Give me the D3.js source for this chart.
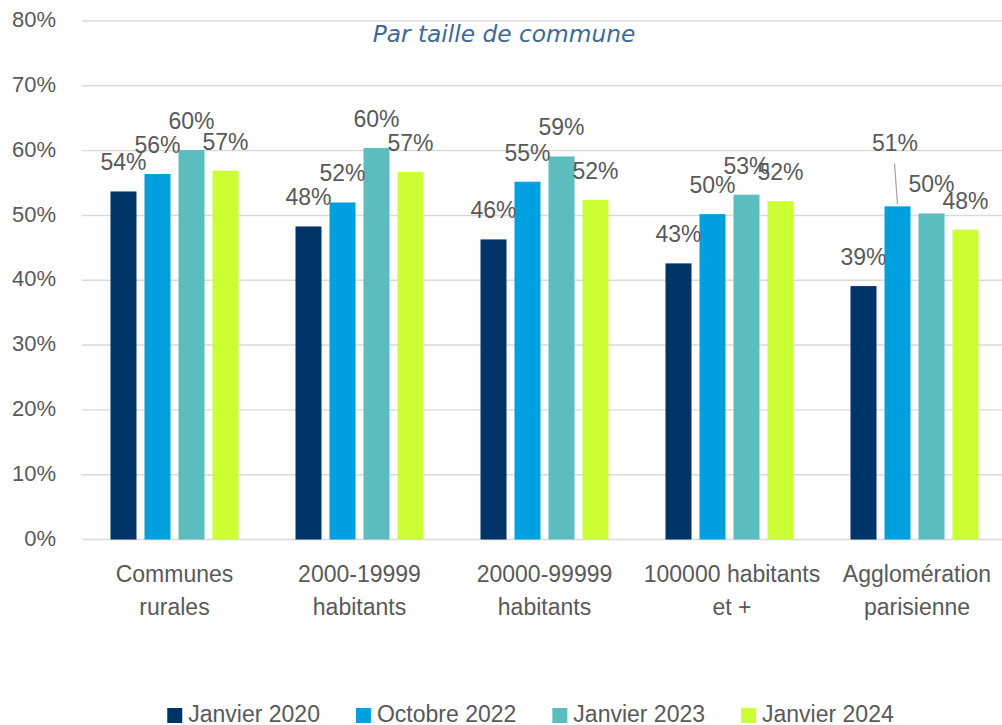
<!DOCTYPE html>
<html>
<head>
<meta charset="utf-8">
<script src="https://cdn.jsdelivr.net/npm/d3@7"></script>
<style>
  html, body { margin: 0; padding: 0; background: #fff; }
  svg { display: block; }
</style>
</head>
<body>
<svg id="chart" width="1002" height="725"></svg>
<script>
const categories = [
  ["Communes", "rurales"],
  ["2000-19999", "habitants"],
  ["20000-99999", "habitants"],
  ["100000 habitants", "et +"],
  ["Agglomération", "parisienne"]
];
const seriesNames = ["Janvier 2020", "Octobre 2022", "Janvier 2023", "Janvier 2024"];
const janvier2020 = [0.537, 0.483, 0.463, 0.426, 0.391];
const octobre2022 = [0.564, 0.520, 0.552, 0.502, 0.514];
const janvier2023 = [0.601, 0.604, 0.591, 0.532, 0.503];
const janvier2024 = [0.569, 0.567, 0.524, 0.522, 0.478];
const yTicks = [0, 0.1, 0.2, 0.3, 0.4, 0.5, 0.6, 0.7, 0.8];
const colors = ["#003366", "#009FDF", "#5CBDBE", "#CCFF33"];
const title = "Par taille de commune";

const seriesValues = [janvier2020, octobre2022, janvier2023, janvier2024];
const catKeys = categories.map(c => c.join(" "));

const svg = d3.select("#chart");
const textColor = "#595959";
const font = "'Liberation Sans', Arial, sans-serif";

const y = d3.scaleLinear().domain([0, 0.8]).range([539.5, 21]);
const x = d3.scaleBand().domain(catKeys).range([82, 1007]).padding(0);
const xi = d3.scaleBand().domain(seriesNames).range([28.5, 156.5]).paddingInner(8 / 34).paddingOuter(0);
const fmt = d3.format(".0%");

// gridlines
svg.append("g")
  .selectAll("line")
  .data(yTicks)
  .join("line")
  .attr("x1", 82).attr("x2", 1002)
  .attr("y1", d => y(d)).attr("y2", d => y(d))
  .attr("stroke", "#D9D9D9").attr("stroke-width", 1.4);

// y axis labels
const yAxis = d3.axisLeft(y).tickValues(yTicks).tickFormat(fmt).tickSize(0).tickPadding(0);
const yg = svg.append("g").attr("transform", "translate(56,0)").call(yAxis);
yg.select(".domain").remove();
yg.selectAll("text")
  .attr("font-family", font).attr("font-size", 22).attr("fill", textColor)
  .attr("dy", "0.26em");

// title
svg.append("text")
  .attr("x", 504).attr("y", 41.5)
  .attr("text-anchor", "middle")
  .attr("font-family", "'DejaVu Sans', Verdana, sans-serif")
  .attr("font-style", "italic")
  .attr("font-size", 23.3)
  .attr("fill", "#3D6A99")
  .text(title);

// bars
const groups = svg.append("g").selectAll("g")
  .data(catKeys)
  .join("g")
  .attr("transform", d => `translate(${x(d)},0)`);

groups.each(function(cat, ci) {
  const g = d3.select(this);
  seriesNames.forEach((s, si) => {
    const v = seriesValues[si][ci];
    g.append("rect")
      .attr("x", xi(s)).attr("width", xi.bandwidth())
      .attr("y", y(v)).attr("height", y(0) - y(v))
      .attr("fill", colors[si]);
  });
});

// data labels
groups.each(function(cat, ci) {
  const g = d3.select(this);
  seriesNames.forEach((s, si) => {
    const v = seriesValues[si][ci];
    const cx = xi(s) + xi.bandwidth() / 2;
    let by = y(v) - 21;
    let lx = cx;
    const moved = (ci === 4 && si === 1);
    if (moved) {
      by = y(v) - 55;
      lx = cx - 2.5;
      g.append("line")
        .attr("x1", cx - 3).attr("y1", by + 12)
        .attr("x2", cx).attr("y2", y(v) - 2)
        .attr("stroke", "#A6A6A6").attr("stroke-width", 1.2);
    }
    g.append("text")
      .attr("x", lx).attr("y", by)
      .attr("text-anchor", "middle")
      .attr("font-family", font).attr("font-size", 23)
      .attr("fill", textColor)
      .text(fmt(v));
  });
});

// category labels
const xg = svg.append("g");
catKeys.forEach((k, i) => {
  const t = xg.append("text")
    .attr("x", x(k) + x.bandwidth() / 2 + (i >= 3 ? 2.5 : 0))
    .attr("y", 581.5)
    .attr("text-anchor", "middle")
    .attr("font-family", font).attr("font-size", 23)
    .attr("fill", textColor);
  categories[i].forEach((line, li) => {
    t.append("tspan")
      .attr("x", x(k) + x.bandwidth() / 2 + (i >= 3 ? 2.5 : 0))
      .attr("dy", li === 0 ? 0 : 33)
      .text(line);
  });
});

// legend
const legend = svg.append("g");
const items = [];
seriesNames.forEach((s, i) => {
  const it = legend.append("g");
  it.append("rect").attr("x", 0).attr("y", 708).attr("width", 15).attr("height", 15).attr("fill", colors[i]);
  const t = it.append("text").attr("x", 21).attr("y", 722.3)
    .attr("font-family", font).attr("font-size", 23).attr("fill", textColor).text(s);
  const w = 21 + t.node().getComputedTextLength();
  items.push({ it, w });
});
const gap = 36;
const total = items.reduce((a, b) => a + b.w, 0) + gap * (items.length - 1);
let start = 530.5 - total / 2;
items.forEach(o => {
  o.it.attr("transform", `translate(${start},0)`);
  start += o.w + gap;
});
</script>
</body>
</html>
